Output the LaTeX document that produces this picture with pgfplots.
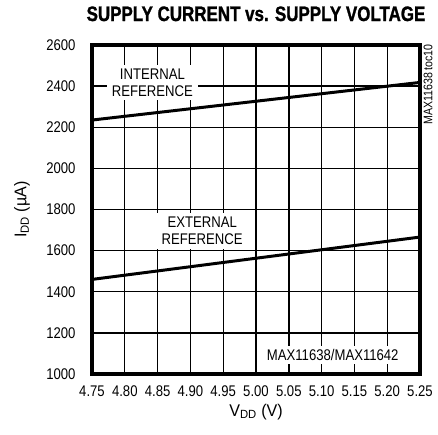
\documentclass[border=0pt]{standalone}
\usepackage{fontspec}
\setmainfont{Liberation Sans}[FakeStretch=0.85]
\newfontfamily\labelfont{Liberation Sans}[FakeStretch=0.95]
\newfontfamily\titlefont{Liberation Sans}[FakeStretch=0.81,BoldFont={Liberation Sans Bold},BoldFeatures={FakeBold=1.2}]
\usepackage{pgfplots}
\pgfplotsset{compat=1.18}
\begin{document}
\begin{tikzpicture}
\begin{axis}[
  name=ax,
  scale only axis,
  width=328bp, height=329bp,
  xmin=4.75, xmax=5.25, ymin=1000, ymax=2600,
  xtick={4.75,4.80,...,5.25},
  ytick={1000,1200,...,2600},
  xticklabel style={yshift=-8bp, /pgf/number format/.cd,fixed,fixed zerofill,precision=2},
  yticklabel style={xshift=-13bp, /pgf/number format/.cd,fixed,1000 sep={}},
  /pgf/number format/assume math mode=true,
  ticklabel style={font=\fontsize{15.5}{16}\selectfont},
  grid=major,
  major grid style={black, line width=1.4pt},
  axis line style={line width=3.4pt},
  major tick length=0pt,
  xtick pos=bottom, ytick pos=left,
  xlabel={V\textsubscript{DD} (V)},
  every axis x label/.style={at={(rel axis cs:0.5,0)}, yshift=-38bp, anchor=center, font=\labelfont\fontsize{17}{18}\selectfont},
  title={\titlefont\bfseries SUPPLY CURRENT vs. SUPPLY VOLTAGE},
  title style={at={(rel axis cs:0.5,1)}, anchor=base, yshift=18bp, font=\fontsize{21}{22}\selectfont},
  clip=false,
]
\addplot[black, line width=3pt] coordinates {(4.75,2235) (5.25,2418)};
\addplot[black, line width=3pt] coordinates {(4.75,1460) (5.25,1666)};
\node[fill=white, align=center, inner xsep=5bp, inner ysep=4bp, font=\fontsize{15.5}{17}\selectfont] at (axis cs:4.842,2418) {INTERNAL\\REFERENCE};
\node[fill=white, align=center, inner xsep=5bp, inner ysep=4bp, font=\fontsize{15.5}{17}\selectfont] at (axis cs:4.918,1695) {EXTERNAL\\REFERENCE};
\node[fill=white, inner sep=3pt, font=\fontsize{15.5}{17}\selectfont] at (axis cs:5.117,1092) {MAX11638/MAX11642};
\node[rotate=90, font=\fontsize{12.5}{13}\selectfont, anchor=center] at ([xshift=8bp]rel axis cs:1,0.88) {MAX11638 toc10};
\end{axis}
\node[rotate=90, anchor=center, font=\labelfont\fontsize{17}{18}\selectfont] at ([xshift=-70bp]ax.west) {I\textsubscript{DD} (\textmu A)};
\pgfresetboundingbox
\path[use as bounding box] ([xshift=-92bp,yshift=-60bp]ax.south west) rectangle ([xshift=18bp,yshift=45bp]ax.north east);
\end{tikzpicture}
\end{document}
